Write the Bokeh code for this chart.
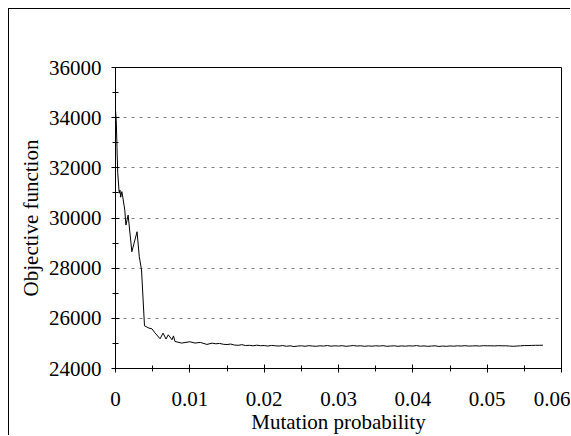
from bokeh.plotting import figure
from bokeh.embed import file_html
from bokeh.resources import INLINE
from bokeh.models import FixedTicker, NumeralTickFormatter, Range1d

# ---- data ----
mutation_prob = [
    0.0000, 0.0001, 0.0002, 0.0003, 0.0005, 0.0006, 0.0007, 0.00085, 0.0010,
    0.00125, 0.0014, 0.0017, 0.0022, 0.0029, 0.0032, 0.0035, 0.0039, 0.0045,
    0.0049, 0.0053, 0.0060, 0.0064, 0.0068, 0.0071, 0.0076, 0.0078, 0.0080,
    0.0089, 0.0100, 0.0107, 0.0114, 0.0123,
    0.0130, 0.0135, 0.0140, 0.0145, 0.0150, 0.0155, 0.0160, 0.0165, 0.0170,
    0.0175, 0.0180, 0.0185, 0.0190, 0.0195, 0.0200, 0.0205, 0.0210, 0.0215,
    0.0220, 0.0225, 0.0230, 0.0235, 0.0240, 0.0245, 0.0250, 0.0255, 0.0260,
    0.0265, 0.0270, 0.0275, 0.0280, 0.0285, 0.0290, 0.0295, 0.0300, 0.0305,
    0.0310, 0.0315, 0.0320, 0.0325, 0.0330, 0.0335, 0.0340, 0.0345, 0.0350,
    0.0355, 0.0360, 0.0365, 0.0370, 0.0375, 0.0380, 0.0385, 0.0390, 0.0395,
    0.0400, 0.0405, 0.0410, 0.0415, 0.0420, 0.0425, 0.0430, 0.0435, 0.0440,
    0.0445, 0.0450, 0.0455, 0.0460, 0.0465, 0.0470, 0.0475, 0.0480, 0.0485,
    0.0490, 0.0495, 0.0500, 0.0505, 0.0510, 0.0515, 0.0520, 0.0525, 0.0530,
    0.0535, 0.0540, 0.0545, 0.0550, 0.0555, 0.0560, 0.0565, 0.0570, 0.0575,
]
objective = [
    34300, 33900, 32800, 31800, 30990, 31110, 30830, 31050, 30800,
    30314, 29718, 30115, 28656, 29452, 28457, 27929, 25702, 25611,
    25583, 25424, 25185, 25412, 25173, 25344, 25146, 25300, 25078,
    25014, 25066, 25014, 25040, 24960,
    25010, 24985, 25000, 24965, 24955, 24975, 24935, 24925, 24950,
    24915, 24925, 24905, 24930, 24910, 24915, 24895, 24920, 24905,
    24895, 24915, 24885, 24905, 24875, 24895, 24905, 24885, 24910,
    24895, 24885, 24905, 24895, 24915, 24890, 24905, 24895, 24910,
    24885, 24900, 24915, 24895, 24905, 24885, 24900, 24890, 24905,
    24895, 24910, 24885, 24895, 24905, 24885, 24900, 24890, 24905,
    24895, 24915, 24890, 24900, 24885, 24895, 24905, 24880, 24895,
    24885, 24900, 24890, 24905, 24895, 24910, 24895, 24900, 24905,
    24895, 24910, 24905, 24905, 24900, 24910, 24905, 24905, 24895,
    24885, 24895, 24905, 24915, 24915, 24920, 24925, 24925, 24930,
]

x_ticks = [0, 0.01, 0.02, 0.03, 0.04, 0.05, 0.06]
x_minor = [0.005, 0.015, 0.025, 0.035, 0.045, 0.055]
y_ticks = [24000, 26000, 28000, 30000, 32000, 34000, 36000]
y_minor = [25000, 27000, 29000, 31000, 33000, 35000]

FONT = "'Liberation Serif', 'Times New Roman', serif"
FSIZE = "21px"

p = figure(width=562, height=427, output_backend="svg", toolbar_location=None,
           x_range=Range1d(0, 0.06), y_range=Range1d(24000, 36000),
           min_border_left=106, min_border_right=10,
           min_border_top=58, min_border_bottom=67)
p.styles = {"margin-left": "8px", "margin-top": "8px",
            "border-left": "1px solid black", "border-top": "1px solid black"}

p.line(mutation_prob, objective, line_color="black", line_width=1)

p.background_fill_color = "white"
p.border_fill_color = "white"
p.outline_line_color = "black"
p.outline_line_width = 1

p.xgrid.grid_line_color = None
p.ygrid.grid_line_color = "#808080"
p.ygrid.grid_line_dash = "3 5"
p.ygrid.grid_line_width = 1

p.xaxis.ticker = FixedTicker(ticks=x_ticks, minor_ticks=x_minor)
p.yaxis.ticker = FixedTicker(ticks=y_ticks, minor_ticks=y_minor)
p.xaxis.formatter = NumeralTickFormatter(format="0.[00]")
p.yaxis.formatter = NumeralTickFormatter(format="0")

for ax in (p.xaxis, p.yaxis):
    ax.axis_line_color = "black"
    ax.major_tick_line_color = "black"
    ax.minor_tick_line_color = "black"
    ax.major_tick_in = 4
    ax.major_tick_out = 4
    ax.minor_tick_in = 3
    ax.minor_tick_out = 3
    ax.major_label_text_font = FONT
    ax.major_label_text_font_size = FSIZE
    ax.major_label_text_color = "black"
    ax.axis_label_text_font = FONT
    ax.axis_label_text_font_size = FSIZE
    ax.axis_label_text_font_style = "normal"
    ax.axis_label_text_color = "black"

p.xaxis.axis_label = "Mutation probability"
p.yaxis.axis_label = "Objective function"
p.xaxis.major_label_standoff = 19
p.xaxis.axis_label_standoff = 1
p.yaxis.major_label_standoff = 10
p.yaxis.axis_label_standoff = 3

open("out.html", "w").write(file_html(p, INLINE))
